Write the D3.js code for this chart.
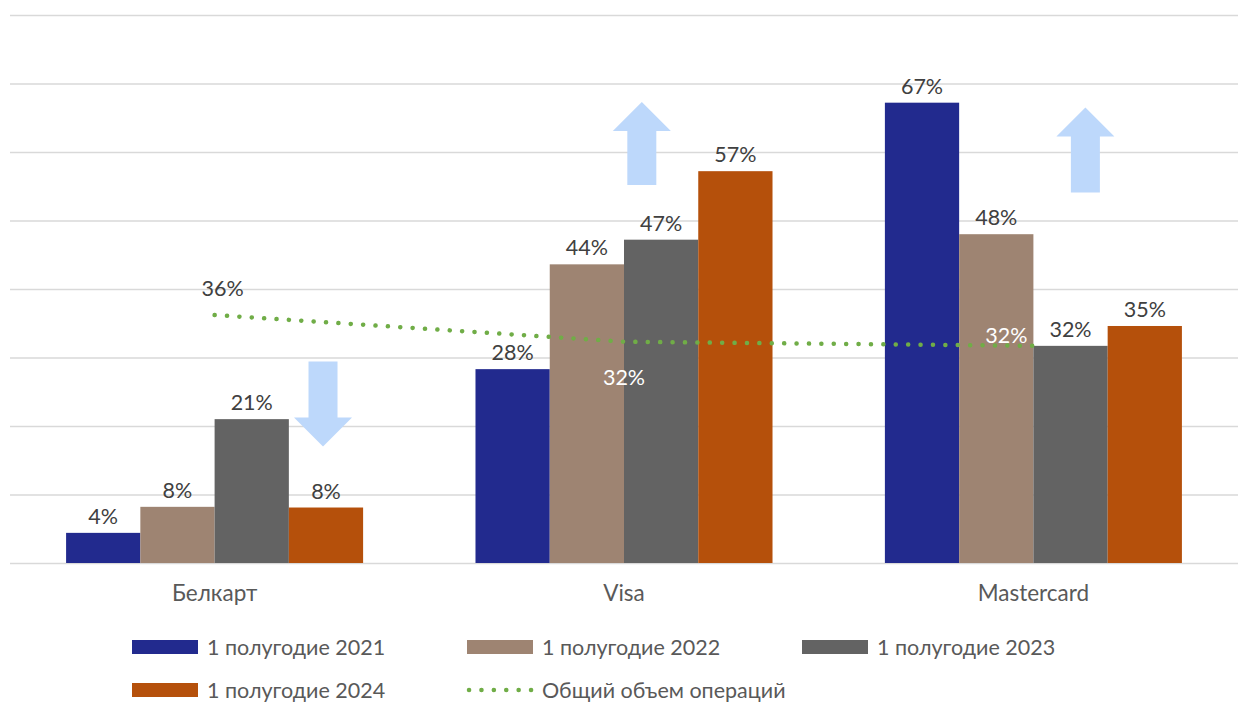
<!DOCTYPE html>
<html>
<head>
<meta charset="utf-8">
<script src="https://cdn.jsdelivr.net/npm/d3@7"></script>
<style>
  body { margin: 0; background: #fff; }
  svg { display: block; font-family: Lato, "Open Sans", sans-serif; }
</style>
</head>
<body>
<script>
// данные
var categories = ["Белкарт", "Visa", "Mastercard"];
var series = ["1 полугодие 2021", "1 полугодие 2022", "1 полугодие 2023", "1 полугодие 2024"];
var v2021 = [4.4, 28.3, 67.2];
var v2022 = [8.2, 43.6, 48.0];
var v2023 = [21.0, 47.2, 31.7];
var v2024 = [8.1, 57.2, 34.6];
var totalName = "Общий объем операций";
var totalValues = [36.2, 32.3, 31.7];
var yTicks = [0, 10, 20, 30, 40, 50, 60, 70, 80];

var colors = ["#222a8e", "#9e8472", "#636363", "#b5500b"];
var lineColor = "#70ad47";
var arrowColor = "#bdd8fb";

// размеры
var svg_width = 1239;
var svg_height = 706;
var label_size = 21.5;
var cat_size = 22.5;
var legend_size = 21.5;

var svg = d3.select("body").append("svg")
    .attr("width", svg_width).attr("height", svg_height);

var x0 = d3.scaleBand().domain(categories).range([10, 1238])
    .paddingInner(0.2745).paddingOuter(0.137);
var x1 = d3.scaleBand().domain(series).range([0, x0.bandwidth()]);
var y = d3.scaleLinear().domain([0, 80]).range([563, 15]);

var seriesValues = [v2021, v2022, v2023, v2024];

// сетка
svg.append("g").selectAll("line").data(yTicks).enter().append("line")
    .attr("x1", 10).attr("x2", 1238)
    .attr("y1", function(d) { return y(d) + 0.5; })
    .attr("y2", function(d) { return y(d) + 0.5; })
    .attr("stroke", "#d9d9d9").attr("stroke-width", 1.5);

// столбцы
var rows = [];
series.forEach(function(s, si) {
    categories.forEach(function(c, ci) {
        rows.push({ s: s, si: si, c: c, v: seriesValues[si][ci] });
    });
});

svg.append("g").selectAll("rect").data(rows).enter().append("rect")
    .attr("x", function(d) { return x0(d.c) + x1(d.s); })
    .attr("y", function(d) { return y(d.v); })
    .attr("width", x1.bandwidth())
    .attr("height", function(d) { return y(0) - y(d.v); })
    .attr("fill", function(d) { return colors[d.si]; });

svg.append("g").selectAll("text").data(rows).enter().append("text")
    .attr("x", function(d) { return x0(d.c) + x1(d.s) + x1.bandwidth() / 2; })
    .attr("y", function(d) { return y(d.v) - 9; })
    .attr("text-anchor", "middle")
    .attr("font-size", label_size).attr("fill", "#404040")
    .text(function(d) { return Math.round(d.v) + "%"; });

// стрелки (аннотации): категория, смещение по x в долях группы, направление, y от/до
var arrowCats = ["Белкарт", "Visa", "Mastercard"];
var arrowOffsets = [0.365, 0.06, 0.175];
var arrowDirs = ["down", "up", "up"];
var arrowFrom = [29.4, 55.2, 54.1];
var arrowTo = [17.0, 67.3, 66.5];

arrowCats.forEach(function(c, i) {
    var cx = x0(c) + x0.bandwidth() / 2 + arrowOffsets[i] * x0.bandwidth();
    var ya = y(arrowFrom[i]), yb = y(arrowTo[i]);
    var sw = 14.5, hw = 29;
    var dir = arrowDirs[i] == "up" ? -1 : 1;
    var headBase = yb - dir * 29;
    var pts = [
        [cx - sw, ya], [cx - sw, headBase], [cx - hw, headBase], [cx, yb],
        [cx + hw, headBase], [cx + sw, headBase], [cx + sw, ya]
    ];
    svg.append("path").attr("d", "M" + pts.join("L") + "Z").attr("fill", arrowColor);
});

// линия общего объема
var lineData = categories.map(function(c, i) { return { c: c, v: totalValues[i] }; });
svg.append("path")
    .datum(lineData)
    .attr("d", d3.line()
        .x(function(d) { return x0(d.c) + x0.bandwidth() / 2; })
        .y(function(d) { return y(d.v); }))
    .attr("fill", "none").attr("stroke", lineColor)
    .attr("stroke-width", 4.5).attr("stroke-linecap", "round")
    .attr("stroke-dasharray", "0.1,12.3");

// подписи линии
var lineLabelDx = [8, 0, -6];
var lineLabelDy = [-19, 43, -3];
var lineLabelAnchor = ["middle", "middle", "end"];
var lineLabelColor = ["#404040", "#ffffff", "#ffffff"];
svg.append("g").selectAll("text").data(lineData).enter().append("text")
    .attr("x", function(d, i) { return x0(d.c) + x0.bandwidth() / 2 + lineLabelDx[i]; })
    .attr("y", function(d, i) { return y(d.v) + lineLabelDy[i]; })
    .attr("text-anchor", function(d, i) { return lineLabelAnchor[i]; })
    .attr("fill", function(d, i) { return lineLabelColor[i]; })
    .attr("font-size", label_size)
    .text(function(d) { return Math.round(d.v) + "%"; });

// ось категорий
svg.append("g").selectAll("text").data(categories).enter().append("text")
    .attr("x", function(d) { return x0(d) + x0.bandwidth() / 2; })
    .attr("y", 601)
    .attr("text-anchor", "middle")
    .attr("font-size", cat_size).attr("fill", "#595959")
    .text(function(d) { return d; });

// легенда
var legendItems = series.map(function(s, i) { return { name: s, color: colors[i], type: "rect" }; });
legendItems.push({ name: totalName, color: lineColor, type: "line" });
var legendX = [132, 467, 802];
var legendY = [647, 690];

var lg = svg.append("g").selectAll("g").data(legendItems).enter().append("g")
    .attr("transform", function(d, i) {
        return "translate(" + legendX[i % 3] + "," + legendY[Math.floor(i / 3)] + ")";
    });

lg.filter(function(d) { return d.type == "rect"; }).append("rect")
    .attr("x", 0).attr("y", -7).attr("width", 66).attr("height", 14)
    .attr("fill", function(d) { return d.color; });

lg.filter(function(d) { return d.type == "line"; }).append("line")
    .attr("x1", 2).attr("x2", 66).attr("y1", 0).attr("y2", 0)
    .attr("stroke", lineColor).attr("stroke-width", 4.5)
    .attr("stroke-linecap", "round").attr("stroke-dasharray", "0.1,12.3");

lg.append("text")
    .attr("x", 75).attr("y", 8)
    .attr("font-size", legend_size).attr("fill", "#595959")
    .text(function(d) { return d.name; });
</script>
</body>
</html>
